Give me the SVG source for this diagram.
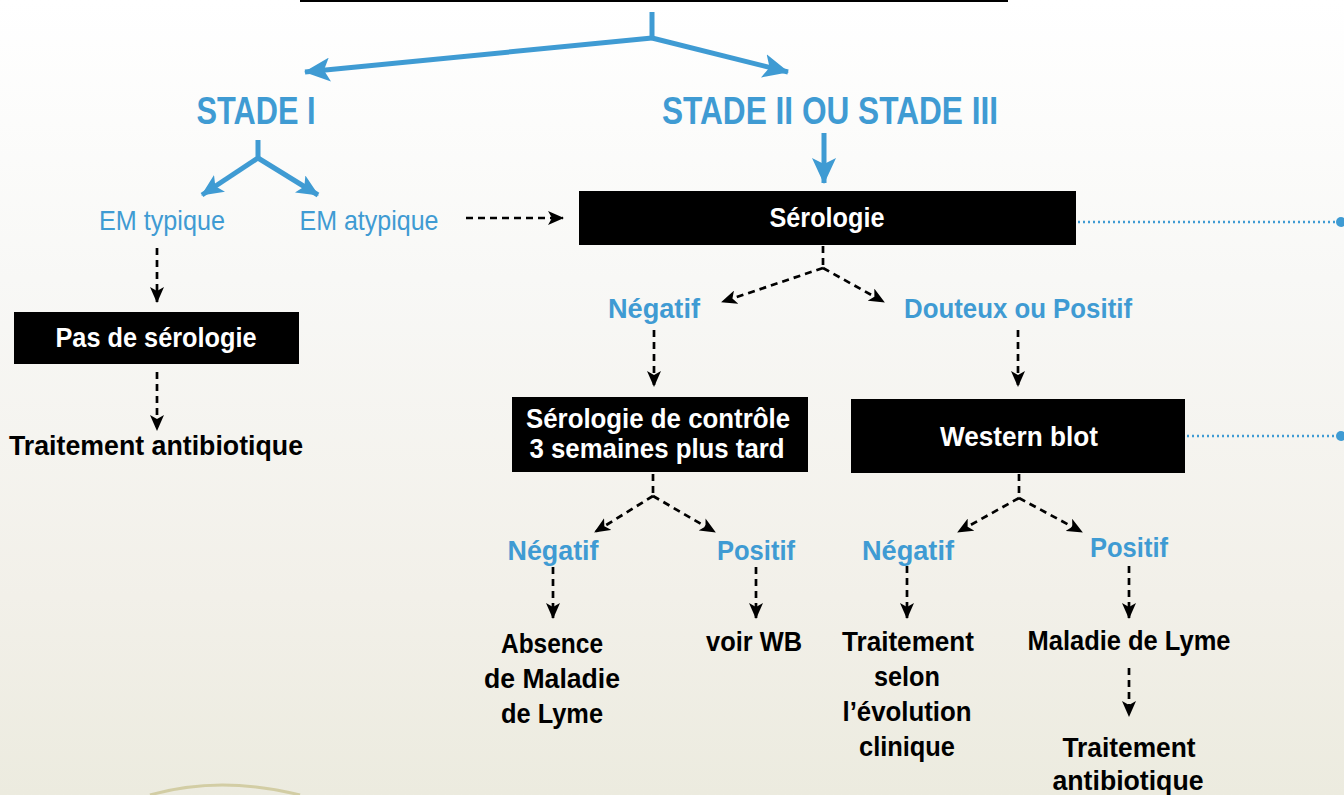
<svg xmlns="http://www.w3.org/2000/svg" width="1344" height="795" viewBox="0 0 1344 795">
<defs>
<linearGradient id="bg2" x1="0" y1="0" x2="0" y2="1">
<stop offset="0" stop-color="#ffffff"/>
<stop offset="0.35" stop-color="#f8f8f6"/>
<stop offset="0.75" stop-color="#f2f0e9"/>
<stop offset="1" stop-color="#ecebdf"/>
</linearGradient>
<marker id="ab" markerUnits="userSpaceOnUse" markerWidth="26" markerHeight="24" viewBox="0 0 26 24" refX="25" refY="12" orient="auto">
<path d="M0,0 L26,12 L0,24 L6,12 Z" fill="#3f9bd3"/>
</marker>
<marker id="abs" markerUnits="userSpaceOnUse" markerWidth="22" markerHeight="20" viewBox="0 0 22 20" refX="21" refY="10" orient="auto">
<path d="M0,0 L22,10 L0,20 L5,10 Z" fill="#3f9bd3"/>
</marker>
<marker id="ak" markerUnits="userSpaceOnUse" markerWidth="16" markerHeight="14" viewBox="0 0 16 14" refX="15" refY="7" orient="auto">
<path d="M0,0 L16,7 L0,14 L4,7 Z" fill="#000"/>
</marker>
<style>
.blue{fill:none;stroke:#3f9bd3;stroke-width:5}
.dash{fill:none;stroke:#000;stroke-width:2.7;stroke-dasharray:7 5}
.dot{fill:none;stroke:#3f9bd3;stroke-width:2.5;stroke-dasharray:2 3}
.box{fill:#000}
text{font-family:"Liberation Sans",Arial,sans-serif;text-anchor:middle;font-weight:bold}
.st{fill:#3f9bd3;font-size:39px}
.em{fill:#3f9bd3;font-size:28px;font-weight:normal}
.lb{fill:#3f9bd3;font-size:28px}
.bx{fill:#fff;font-size:27px}
.tx{fill:#000;font-size:28px}
</style>
</defs>
<rect width="1344" height="795" fill="url(#bg2)"/>
<path d="M150,795 Q220,775 300,795" fill="none" stroke="#c8c08a" stroke-width="3" opacity="0.7"/>
<line x1="300" y1="1" x2="1008" y2="1" stroke="#000" stroke-width="2"/>

<g id="connectors">
<path class="blue" d="M652,12 V38"/>
<path class="blue" d="M652,38 L305,72" marker-end="url(#ab)"/>
<path class="blue" d="M652,38 L788,72" marker-end="url(#ab)"/>
<path class="blue" d="M258,140 V158"/>
<path class="blue" d="M258,158 L202,195" marker-end="url(#abs)"/>
<path class="blue" d="M258,158 L318,195" marker-end="url(#abs)"/>
<path class="blue" d="M824,133 V183" marker-end="url(#ab)"/>
<path class="dash" d="M466,218 H563" marker-end="url(#ak)"/>
<path class="dash" d="M157,248 V302" marker-end="url(#ak)"/>
<path class="dash" d="M157,372 V430" marker-end="url(#ak)"/>
<path class="dash" d="M823,246 V268"/>
<path class="dash" d="M823,268 L722,302" marker-end="url(#ak)"/>
<path class="dash" d="M823,268 L884,302" marker-end="url(#ak)"/>
<path class="dash" d="M654,330 V386" marker-end="url(#ak)"/>
<path class="dash" d="M1018,330 V386" marker-end="url(#ak)"/>
<path class="dash" d="M653,474 V496"/>
<path class="dash" d="M653,496 L595,532" marker-end="url(#ak)"/>
<path class="dash" d="M653,496 L715,532" marker-end="url(#ak)"/>
<path class="dash" d="M1019,474 V498"/>
<path class="dash" d="M1019,498 L958,532" marker-end="url(#ak)"/>
<path class="dash" d="M1019,498 L1082,532" marker-end="url(#ak)"/>
<path class="dash" d="M553,567 V618" marker-end="url(#ak)"/>
<path class="dash" d="M756,567 V618" marker-end="url(#ak)"/>
<path class="dash" d="M907,566 V618" marker-end="url(#ak)"/>
<path class="dash" d="M1129,566 V618" marker-end="url(#ak)"/>
<path class="dash" d="M1129,668 V716" marker-end="url(#ak)"/>
<path class="dot" d="M1078,222 H1336"/>
<circle cx="1341" cy="222" r="5" fill="#3f9bd3"/>
<path class="dot" d="M1187,436 H1336"/>
<circle cx="1341" cy="436" r="5" fill="#3f9bd3"/>
</g>

<g id="stade1"><text class="st" x="256" y="124" textLength="119" lengthAdjust="spacingAndGlyphs">STADE I</text></g>
<g id="stade23"><text class="st" x="830" y="124" textLength="336" lengthAdjust="spacingAndGlyphs">STADE II OU STADE III</text></g>
<g id="emtyp"><text class="em" x="162" y="230" textLength="126" lengthAdjust="spacingAndGlyphs">EM typique</text></g>
<g id="ematyp"><text class="em" x="369" y="230" textLength="139" lengthAdjust="spacingAndGlyphs">EM atypique</text></g>

<g id="serologie">
<rect class="box" x="579" y="191" width="497" height="54"/>
<text class="bx" x="827" y="227" textLength="115" lengthAdjust="spacingAndGlyphs">Sérologie</text>
</g>
<g id="negatif1"><text class="lb" x="654" y="318" textLength="92" lengthAdjust="spacingAndGlyphs">Négatif</text></g>
<g id="douteux"><text class="lb" x="1018" y="318" textLength="228" lengthAdjust="spacingAndGlyphs">Douteux ou Positif</text></g>

<g id="pasdeserologie">
<rect class="box" x="14" y="312" width="285" height="52"/>
<text class="bx" x="156" y="347" textLength="201" lengthAdjust="spacingAndGlyphs">Pas de sérologie</text>
</g>
<g id="traitement1"><text class="tx" x="156" y="455" textLength="294" lengthAdjust="spacingAndGlyphs">Traitement antibiotique</text></g>

<g id="controle">
<rect class="box" x="512" y="397" width="296" height="75"/>
<text class="bx" x="658" y="428" textLength="264" lengthAdjust="spacingAndGlyphs">Sérologie de contrôle</text>
<text class="bx" x="657" y="458" textLength="255" lengthAdjust="spacingAndGlyphs">3 semaines plus tard</text>
</g>

<g id="westernblot">
<rect class="box" x="851" y="399" width="334" height="74"/>
<text class="bx" x="1019" y="446" textLength="158" lengthAdjust="spacingAndGlyphs">Western blot</text>
</g>

<g id="negatif2"><text class="lb" x="553" y="560" textLength="91" lengthAdjust="spacingAndGlyphs">Négatif</text></g>
<g id="positif2"><text class="lb" x="756" y="560" textLength="78" lengthAdjust="spacingAndGlyphs">Positif</text></g>
<g id="negatif3"><text class="lb" x="908" y="560" textLength="92" lengthAdjust="spacingAndGlyphs">Négatif</text></g>
<g id="positif3"><text class="lb" x="1129" y="557" textLength="78" lengthAdjust="spacingAndGlyphs">Positif</text></g>

<g id="absence">
<text class="tx" x="552" y="653" textLength="102" lengthAdjust="spacingAndGlyphs">Absence</text>
<text class="tx" x="552" y="688" textLength="136" lengthAdjust="spacingAndGlyphs">de Maladie</text>
<text class="tx" x="552" y="723" textLength="102" lengthAdjust="spacingAndGlyphs">de Lyme</text>
</g>
<g id="voirwb"><text class="tx" x="754" y="651" textLength="96" lengthAdjust="spacingAndGlyphs">voir WB</text></g>
<g id="traitementselon">
<text class="tx" x="908" y="651" textLength="132" lengthAdjust="spacingAndGlyphs">Traitement</text>
<text class="tx" x="907" y="686" textLength="66" lengthAdjust="spacingAndGlyphs">selon</text>
<text class="tx" x="907" y="721" textLength="129" lengthAdjust="spacingAndGlyphs">l’évolution</text>
<text class="tx" x="907" y="756" textLength="96" lengthAdjust="spacingAndGlyphs">clinique</text>
</g>
<g id="maladie"><text class="tx" x="1129" y="650" textLength="203" lengthAdjust="spacingAndGlyphs">Maladie de Lyme</text></g>
<g id="traitement2">
<text class="tx" x="1129" y="757" textLength="133" lengthAdjust="spacingAndGlyphs">Traitement</text>
<text class="tx" x="1128" y="790" textLength="151" lengthAdjust="spacingAndGlyphs">antibiotique</text>
</g>
</svg>
